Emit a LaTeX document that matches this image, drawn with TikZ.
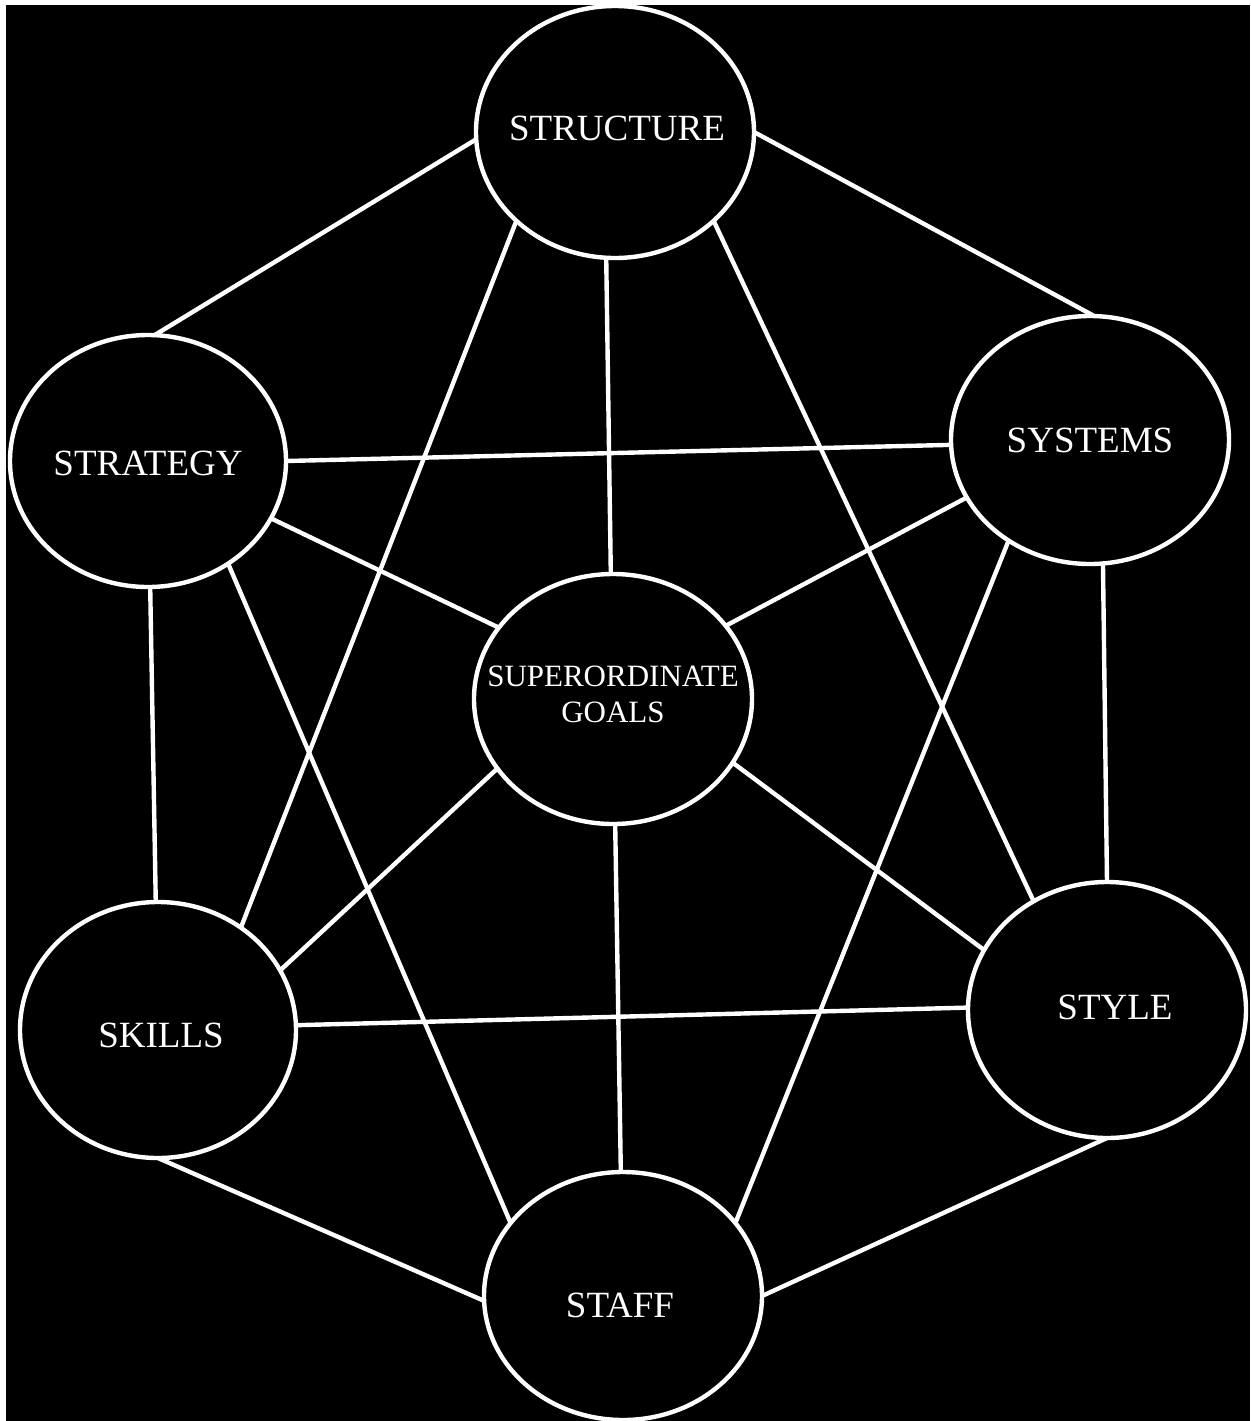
\documentclass[tikz,border=0pt]{standalone}
\usepackage{fontspec}
\setmainfont{Liberation Serif}
\usetikzlibrary{shapes.geometric}
\begin{document}
\begin{tikzpicture}[x=0.5pt,y=-0.5pt,
  elem/.style={ellipse,draw=white,line width=2.2pt,inner sep=0pt,outer sep=0pt,
     minimum width=139pt,minimum height=126pt},
  txt/.style={text=white,align=center,inner sep=0pt,
     font=\fontsize{18.5}{20}\selectfont},
  link/.style={draw=white,line width=2.2pt}]
\useasboundingbox (0,0) rectangle (1250,1421);
\fill[white] (0,0) rectangle (1250,1421);
\fill[black] (6,5) rectangle (1250,1421);
\node[elem,label={[txt,xshift=1pt,yshift=2pt]center:STRUCTURE}] (structure) at (615,132) {};
\node[elem,minimum width=138pt,label={[txt,yshift=-1pt]center:STRATEGY}] (strategy) at (148,461) {};
\node[elem,minimum height=124pt,label={[txt]center:SYSTEMS}] (systems) at (1090,440) {};
\node[elem,minimum height=125pt,label={[txt,yshift=2.5pt,font=\fontsize{15.5}{18}\selectfont]center:SUPERORDINATE\\GOALS}] (goals) at (613,699) {};
\node[elem,minimum width=138pt,minimum height=128pt,label={[txt,xshift=1.5pt,yshift=-2.5pt]center:SKILLS}] (skills) at (158,1030) {};
\node[elem,minimum height=128pt,label={[txt,xshift=4pt,yshift=1.5pt]center:STYLE}] (style) at (1107,1010) {};
\node[elem,minimum height=124pt,label={[txt,xshift=-1.5pt,yshift=-4.5pt]center:STAFF}] (staff) at (623,1296) {};
% structure
\draw[link] (structure.183.3) -- (strategy.87.7);
\draw[link] (structure.0.8) -- (systems.88.6);
\draw[link] (structure.222.4) -- (skills.51.5);
\draw[link] (structure.266.4) -- (goals.91);
\draw[link] (structure.318.3) -- (style.124.8);
% strategy
\draw[link] (strategy.0.4) -- (systems.182);
\draw[link] (strategy.-25.4) -- (goals.148.3);
\draw[link] (strategy.-52.8) -- (staff.147.1);
\draw[link] (strategy.-89.1) -- (skills.91.3);
% systems
\draw[link] (systems.205.3) -- (goals.33);
\draw[link] (systems.231.5) -- (staff.33.5);
\draw[link] (systems.-84) -- (style.90);
% goals
\draw[link] (goals.211) -- (skills.26.9);
\draw[link] (goals.-28.8) -- (style.154.2);
\draw[link] (goals.-89) -- (staff.91.4);
% skills
\draw[link] (skills.2.9) -- (style.179.2);
\draw[link] (skills.-90.5) -- (staff.182.5);
% style
\draw[link] (style.270) -- (staff.-0.4);
\end{tikzpicture}
\end{document}
